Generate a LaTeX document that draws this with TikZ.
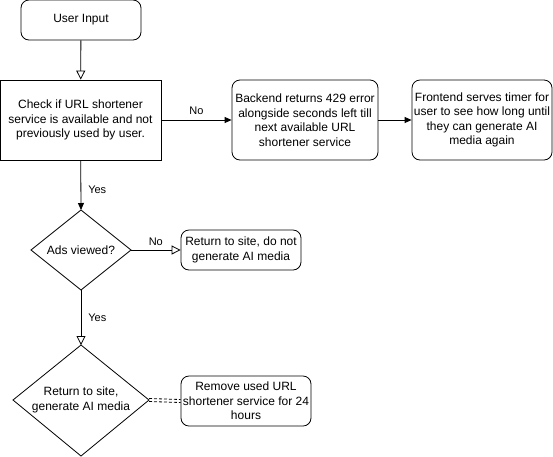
\documentclass[tikz,border=0pt]{standalone}
\usepackage{fontspec}
\setmainfont{Liberation Sans}
\usetikzlibrary{arrows.meta,shapes.geometric}
\begin{document}
\begin{tikzpicture}[x=1pt,y=-1pt,
  base/.style={draw=black,line width=0.8pt,align=center,font=\fontsize{12}{14.5}\selectfont,inner sep=0pt},
  rbox/.style={base,rounded corners=8pt},
  sbox/.style={base},
  flow/.style={draw=black,line width=0.8pt,-{Triangle[length=7pt,width=6pt]}},
  oflow/.style={draw=black,line width=0.8pt,-{Triangle[open,length=9pt,width=9pt]}},
  link/.style={draw=black,line width=0.8pt,dash pattern=on 3pt off 2pt},
  lbl/.style={font=\fontsize{11}{13}\selectfont,inner sep=0pt}]
\useasboundingbox (0,0) rectangle (553,456);
\node[rbox,minimum width=120pt,minimum height=40pt] (ui) at (81,20) {User Input};
\node[sbox,minimum width=161pt,minimum height=80pt] (chk) at (80.5,120) {Check if URL shortener\\service is available and not\\previously used by user.};
\node[rbox,minimum width=146pt,minimum height=80pt] (be) at (305,120) {Backend returns 429 error\\alongside seconds left till\\next available URL\\shortener service};
\node[rbox,minimum width=140pt,minimum height=80pt] (fe) at (482,120) {Frontend serves timer for\\user to see how long until\\they can generate AI\\media again};
\node[base,draw=none] (d1c) at (81,250) {Ads viewed?};
\coordinate (d1t) at (81,210);
\coordinate (d1b) at (81,290);
\coordinate (d1l) at (31,250);
\coordinate (d1r) at (131,250);
\draw[line width=0.8pt] (d1t) -- (d1r) -- (d1b) -- (d1l) -- cycle;
\node[rbox,minimum width=120pt,minimum height=40pt] (ret) at (241,250) {Return to site, do not\\generate AI media};
\node[base,draw=none] (d2c) at (81,400) {Return to site,\\generate AI media};
\coordinate (d2t) at (81,345);
\coordinate (d2b) at (81,456);
\coordinate (d2l) at (13,400);
\coordinate (d2r) at (149,400);
\draw[line width=0.8pt] (d2t) -- (d2r) -- (d2b) -- (d2l) -- cycle;
\node[rbox,minimum width=130pt,minimum height=50pt] (rm) at (246,401) {Remove used URL\\shortener service for 24\\hours};
\draw[oflow] (ui) -- (chk);
\draw[flow] (chk) -- (be) node[lbl,midway,above=5pt] {No};
\draw[flow] (be) -- (fe);
\draw[flow] (chk) -- (d1t) node[lbl,pos=0.6,right=7pt] {Yes};
\draw[oflow] (d1r) -- (ret) node[lbl,pos=0.5,above=4pt] {No};
\draw[oflow] (d1b) -- (d2t) node[lbl,pos=0.5,right=7pt] {Yes};
\draw[link] ([yshift=-1.5pt]d2r) -- ([yshift=-1.5pt]rm.west);
\draw[link] ([yshift=1.5pt]d2r) -- ([yshift=1.5pt]rm.west);
\end{tikzpicture}
\end{document}
